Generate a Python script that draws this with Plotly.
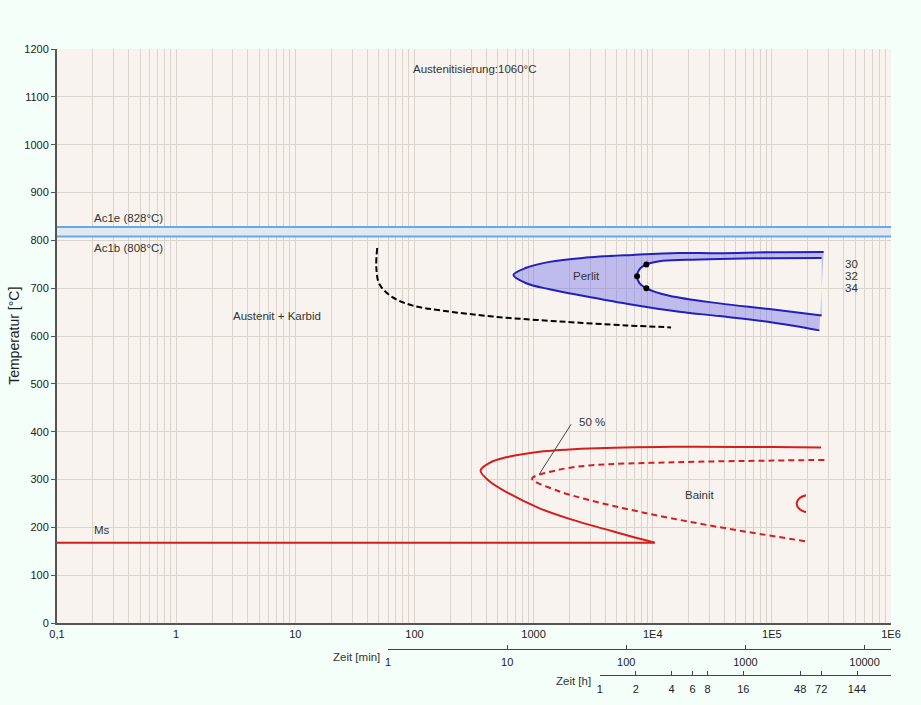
import math
import plotly.graph_objects as go

# ---------------- data (time in s, temperature in °C) ----------------
ac1b = 808
ac1e = 828
t_min_axis, t_max_axis = 0.1, 1e6

# pearlite start (outer) : upper end -> nose -> lower end
perlit_start_t = [272000, 95300, 36300, 16700, 6790, 2590, 1360, 867, 678, 867, 1360, 2590, 6790, 16700, 36300, 95300, 250600]
perlit_start_T = [775.7, 775.1, 773.0, 773.6, 769.5, 763.3, 755.0, 742.6, 727.5, 710.2, 697.8, 684.1, 665.3, 650.8, 641.6, 629.2, 611.8]

# pearlite end (inner) : upper end -> nose -> lower end
perlit_end_t = [261600, 95300, 36300, 19050, 11380, 8850, 7730, 7390, 7730, 8850, 13800, 36300, 95300, 261600]
perlit_end_T = [763.3, 762.7, 761.2, 759.2, 756.1, 749.5, 739.5, 724.7, 710.6, 699.8, 684.1, 668.2, 656.4, 642.8]

# hardness points on pearlite curve
hard_t = [8850, 7390, 8850]
hard_T = [749.5, 724.7, 699.8]
hard_labels = ["30", "32", "34"]

# carbide precipitation (dashed black)
carbide_t = [48.7, 47.9, 50.9, 65.9, 97.1, 173, 455, 1650, 5990, 14260]
carbide_T = [784, 742.7, 708, 680.7, 663.5, 653, 640.7, 630.4, 622.2, 618]

# bainite start (solid red)
bainit_start_t = [258800, 101600, 14720, 2940, 1122, 589, 427, 359, 427, 589, 1122, 2133, 4060, 6370, 10400]
bainit_start_T = [367.1, 367.9, 368.5, 365.0, 358.2, 346.4, 334.8, 319.0, 296.2, 274.0, 239.8, 215.6, 195.7, 181.9, 168.0]

# bainite 50 % (dashed red)
bainit_50_t = [276000, 101600, 14720, 2940, 1549, 973, 1549, 2940, 7730, 28050, 193300]
bainit_50_T = [341.0, 339.6, 336.0, 329.3, 319.0, 301.8, 277.6, 257.0, 232.7, 205.2, 170.7]

# small arc (red)
arc_t = [193300, 170300, 161400, 170300, 193300]
arc_T = [267.2, 261.0, 250.1, 238.3, 231.5]

# Ms line
ms_t = [0.1, 10400]
ms_T = [168, 168]

# leader line for 50 % label
leader_t = [2065, 1122]
leader_T = [415.4, 312.1]

# axis ticks
x_tickvals = [0.1, 1, 10, 100, 1000, 1e4, 1e5, 1e6]
x_ticktext = ["0,1", "1", "10", "100", "1000", "1E4", "1E5", "1E6"]
min_ticks = [1, 10, 100, 1000, 10000]
h_ticks = [1, 2, 4, 6, 8, 16, 48, 72, 144]

# ---------------- styling ----------------
PAGE_BG = "#f5fffa"
PLOT_BG = "#f8f3ee"
GRID = "#dbd4cd"
AXIS = "#555555"
RED = "#d41e1e"
BLUE = "#2020bc"
AC1 = "#6aa8e8"
FONT = "Liberation Sans"
TXT = "#333333"

W, H = 921, 705
ML, MR, MT, MB = 57, 30, 49, 10
PW, PH = W - ML - MR, H - MT - MB


def pxx(px):
    return (px - ML) / PW


def pxy(py):
    return (H - MB - py) / PH


y_dom0 = pxy(629.3)

fig = go.Figure()

common = dict(hoverinfo="skip", showlegend=False)

# Ac1 band
fig.add_trace(go.Scatter(x=[t_min_axis, t_max_axis], y=[ac1b, ac1b], mode="lines",
                         line=dict(color=AC1, width=2), **common))
fig.add_trace(go.Scatter(x=[t_min_axis, t_max_axis], y=[ac1e, ac1e], mode="lines",
                         line=dict(color=AC1, width=2), fill="tonexty",
                         fillcolor="#e2e8f0", **common))

# Pearlite
fig.add_trace(go.Scatter(x=perlit_start_t, y=perlit_start_T, mode="lines",
                         line=dict(color=BLUE, width=2, shape="spline", smoothing=1), **common))
fig.add_trace(go.Scatter(x=perlit_end_t, y=perlit_end_T, mode="lines",
                         line=dict(color=BLUE, width=2, shape="spline", smoothing=1),
                         fill="tonext", fillcolor="rgba(105,105,235,0.40)", **common))
fig.add_trace(go.Scatter(x=hard_t, y=hard_T, mode="markers",
                         marker=dict(color="black", size=6), **common))

# Carbide
fig.add_trace(go.Scatter(x=carbide_t, y=carbide_T, mode="lines",
                         line=dict(color="black", width=2, dash="6px,3px", shape="spline", smoothing=1), **common))

# Bainite
fig.add_trace(go.Scatter(x=bainit_start_t, y=bainit_start_T, mode="lines",
                         line=dict(color=RED, width=2, shape="spline", smoothing=1), **common))
fig.add_trace(go.Scatter(x=bainit_50_t, y=bainit_50_T, mode="lines",
                         line=dict(color=RED, width=2, dash="6px,4px", shape="spline", smoothing=1), **common))
fig.add_trace(go.Scatter(x=arc_t, y=arc_T, mode="lines",
                         line=dict(color=RED, width=2, shape="spline", smoothing=1), **common))
fig.add_trace(go.Scatter(x=ms_t, y=ms_T, mode="lines",
                         line=dict(color=RED, width=2), **common))
fig.add_trace(go.Scatter(x=leader_t, y=leader_T, mode="lines",
                         line=dict(color="#444444", width=1), **common))

# dummy traces to realise secondary time axes (each in its own flat subplot)
fig.add_trace(go.Scatter(x=min_ticks, y=[0] * len(min_ticks), xaxis="x2", yaxis="y2",
                         mode="markers", marker=dict(opacity=0), **common))
fig.add_trace(go.Scatter(x=h_ticks, y=[0] * len(h_ticks), xaxis="x3", yaxis="y3",
                         mode="markers", marker=dict(opacity=0), **common))

# ---------------- annotations ----------------
ann = []


def add_text(text, t, T, xanchor="left", size=11.5):
    ann.append(dict(text=text, x=math.log10(t), y=T, xref="x", yref="y",
                    xanchor=xanchor, yanchor="middle", showarrow=False,
                    font=dict(family=FONT, size=size, color=TXT)))


add_text("Austenitisierung:1060°C", 10 ** 1.973, 1158)
add_text("Ac1e (828°C)", 10 ** -0.706, 847)
add_text("Ac1b (808°C)", 10 ** -0.706, 784)
add_text("Austenit + Karbid", 10 ** 0.457, 642.8)
add_text("Perlit", 10 ** 3.441, 724.7, xanchor="center")
add_text("Bainit", 10 ** 4.400, 267.2, xanchor="center")
add_text("Ms", 10 ** -0.703, 193.5)
add_text("50 %", 10 ** 3.362, 420.2)
for T, lab in zip(hard_T, hard_labels):
    add_text(lab, 10 ** 5.594, T)

ann.append(dict(text="Zeit [min]", x=pxx(382), y=pxy(663.3), xref="paper", yref="paper",
                xanchor="right", yanchor="middle", showarrow=False,
                font=dict(family=FONT, size=11.5, color=TXT)))
ann.append(dict(text="Zeit [h]", x=pxx(593), y=pxy(688.3), xref="paper", yref="paper",
                xanchor="right", yanchor="middle", showarrow=False,
                font=dict(family=FONT, size=11.5, color=TXT)))
ann.append(dict(text="Temperatur [°C]", x=pxx(14), y=pxy(339), xref="paper", yref="paper",
                xanchor="center", yanchor="middle", textangle=-90, showarrow=False,
                font=dict(family=FONT, size=14, color="#222222")))

tickfont = dict(family=FONT, size=11, color="#222222")

f2 = (math.log10(60) + 1) / 7
f3 = (math.log10(3600) + 1) / 7
p2 = pxy(655.7)
p3 = pxy(682.3)
eps = 0.0008

fig.update_layout(
    width=W, height=H,
    margin=dict(l=ML, r=MR, t=MT, b=MB),
    paper_bgcolor=PAGE_BG,
    plot_bgcolor=PLOT_BG,
    showlegend=False,
    annotations=ann,
    xaxis=dict(type="log", range=[-1, 6], domain=[0, 1], anchor="y",
               tickmode="array", tickvals=x_tickvals, ticktext=x_ticktext,
               showgrid=True, gridcolor=GRID, gridwidth=1,
               minor=dict(tickmode="array",
                          tickvals=[k * 10 ** e for e in range(-1, 6) for k in range(2, 10)],
                          showgrid=True, gridcolor=GRID, gridwidth=1, ticks=""),
               showline=True, linecolor=AXIS, linewidth=2,
               ticks="", tickfont=tickfont, zeroline=False),
    yaxis=dict(range=[0, 1200], domain=[y_dom0, 1], anchor="x",
               tickmode="linear", tick0=0, dtick=100,
               showgrid=True, gridcolor=GRID, gridwidth=1,
               showline=True, linecolor=AXIS, linewidth=2,
               ticks="outside", ticklen=4, tickcolor=AXIS, tickwidth=1,
               tickfont=tickfont, zeroline=False),
    xaxis2=dict(type="log", range=[0, math.log10(1e6 / 60)], domain=[f2, 1],
                anchor="y2",
                tickmode="array", tickvals=min_ticks, ticktext=[str(v) for v in min_ticks],
                showgrid=False, showline=True, linecolor="#444444", linewidth=1,
                ticks="inside", ticklen=4, tickcolor="#444444",
                tickfont=tickfont, ticklabelstandoff=3, zeroline=False),
    yaxis2=dict(domain=[p2, p2 + eps], anchor="x2", range=[0, 1], visible=False,
                showgrid=False, zeroline=False),
    xaxis3=dict(type="log", range=[0, math.log10(1e6 / 3600)], domain=[f3, 1],
                anchor="y3",
                tickmode="array", tickvals=h_ticks, ticktext=[str(v) for v in h_ticks],
                showgrid=False, showline=True, linecolor="#444444", linewidth=1,
                ticks="inside", ticklen=4, tickcolor="#444444",
                tickfont=tickfont, ticklabelstandoff=3, zeroline=False),
    yaxis3=dict(domain=[p3, p3 + eps], anchor="x3", range=[0, 1], visible=False,
                showgrid=False, zeroline=False),
)

fig.write_html("out.html")
